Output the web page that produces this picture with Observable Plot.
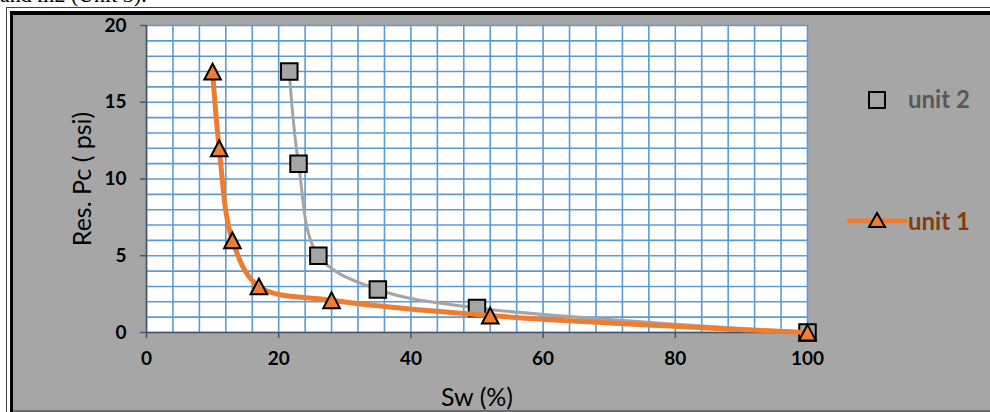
<!DOCTYPE html>
<html>
<head>
<meta charset="utf-8">
<script src="https://cdn.jsdelivr.net/npm/d3@7"></script>
<script src="https://cdn.jsdelivr.net/npm/@observablehq/plot@0.6"></script>
<style>
  html, body { margin: 0; padding: 0; background: #ffffff; }
  body { width: 990px; height: 412px; position: relative; overflow: hidden; font-family: Lato, "Open Sans", sans-serif; }
  #toptext { position: absolute; left: 0; top: -18px; font-family: "Liberation Serif", serif; font-size: 22px; color: #000; white-space: nowrap; }
  #outer { position: absolute; left: 6px; top: 7px; width: 1000px; height: 420px; border-top: 1.5px solid #404040; border-left: 1.5px solid #404040; background: #ffffff; }
  #inner { position: absolute; left: 3px; top: 3px; right: 0; bottom: 0; border-top: 4px solid #000; border-left: 3px solid #000; background: #a6a6a6; }
  #bottomline { position: absolute; left: 13px; top: 410px; width: 990px; height: 2px; background: #6a6a6a; }
  #chart { position: absolute; left: 0; top: 0; }
  .leg { position: absolute; font-family: Lato, sans-serif; font-weight: bold; font-size: 24px; line-height: 1; white-space: nowrap; }
  #legsvg { position: absolute; left: 0; top: 0; }
</style>
</head>
<body>
<div id="toptext">and m2 (Unit 3).</div>
<div id="outer"><div id="inner"></div></div>
<div id="bottomline"></div>
<div id="chart"></div>
<svg id="legsvg" width="990" height="412"></svg>
<div class="leg" id="leg2" style="left:908px; top:87px; color:#595959;">unit 2</div>
<div class="leg" id="leg1" style="left:908px; top:209px; color:#843c0c;">unit 1</div>
<script>
// ---- data ----
const sw1 = [10, 11, 13, 17, 28, 52, 100];
const pc1 = [17, 12, 6, 3, 2.1, 1.1, 0];
const sw2 = [21.6, 23, 26, 35, 50, 100];
const pc2 = [17, 11, 5, 2.8, 1.6, 0];
const xTicks = [0, 20, 40, 60, 80, 100];
const yTicks = [0, 5, 10, 15, 20];
const xGrid = d3.range(0, 101, 4);
const yGrid = d3.range(0, 21, 1);
const seriesNames = ["unit 1", "unit 2"];
const xLabel = "Sw (%)";
const yLabel = "Res. Pc ( psi)";

const unit1 = sw1.map((x, i) => ({x, y: pc1[i]}));
const unit2 = sw2.map((x, i) => ({x, y: pc2[i]}));

// Excel-like triangle (width ~ height), centered on its bounding box
const triangle = {
  draw(context, size) {
    const r = Math.sqrt(size / Math.PI);
    const h = r * 0.95;
    context.moveTo(0, -h);
    context.lineTo(r, h);
    context.lineTo(-r, h);
    context.closePath();
  }
};

const chart = Plot.plot({
  width: 990,
  height: 412,
  marginLeft: 146,
  marginRight: 183,
  marginTop: 25,
  marginBottom: 80,
  style: { background: "transparent", fontFamily: "Lato, sans-serif", overflow: "visible" },
  x: { domain: [0, 100] },
  y: { domain: [0, 20] },
  marks: [
    Plot.frame({ fill: "white", stroke: null }),
    Plot.ruleX(xGrid, { stroke: "#5b9bd5", strokeWidth: 1.6 }),
    Plot.ruleY(yGrid, { stroke: "#5b9bd5", strokeWidth: 1.6 }),
    Plot.ruleX([0], { stroke: "#44546a", strokeWidth: 1.5 }),
    Plot.ruleY([0], { stroke: "#44546a", strokeWidth: 1.5 }),
    Plot.axisX({ ticks: xTicks, tickSize: 6, tickPadding: 13, stroke: "#44546a", strokeWidth: 1.5, fontSize: 19, fontWeight: "bold", fill: "#000", label: null, tickFormat: d => String(d) }),
    Plot.axisY({ ticks: yTicks, tickSize: 6, tickPadding: 14, stroke: "#44546a", strokeWidth: 1.5, fontSize: 19, fontWeight: "bold", fill: "#000", label: null, tickFormat: d => String(d) }),
    Plot.text([xLabel], { text: d => d, frameAnchor: "bottom", dy: 65, fontSize: 25, fill: "#000", textAnchor: "middle", lineAnchor: "middle" }),
    Plot.text([yLabel], { text: d => d, frameAnchor: "left", dx: -64, rotate: -90, fontSize: 25, fill: "#000", textAnchor: "middle", lineAnchor: "middle" }),
    Plot.line(unit2, { x: "x", y: "y", curve: "catmull-rom", stroke: "#a5a5a5", strokeWidth: 3 }),
    Plot.dot(unit2, { x: "x", y: "y", symbol: "square", r: 9.3, fill: "#a5a5a5", stroke: "#000", strokeWidth: 2 }),
    Plot.line(unit1, { x: "x", y: "y", curve: "catmull-rom", stroke: "#ed7d31", strokeWidth: 5 }),
    Plot.dot(unit1, { x: "x", y: "y", symbol: triangle, r: 8.3, fill: "#ed7d31", stroke: "#000", strokeWidth: 2 })
  ]
});
document.getElementById("chart").appendChild(chart);

// legend glyphs
const leg = d3.select("#legsvg");
leg.append("line").attr("x1", 850).attr("x2", 903).attr("y1", 100).attr("y2", 100)
  .attr("stroke", "#a5a5a5").attr("stroke-width", 3);
leg.append("rect").attr("x", 869).attr("y", 92).attr("width", 16).attr("height", 16)
  .attr("fill", "#a5a5a5").attr("stroke", "#000").attr("stroke-width", 2);
leg.append("line").attr("x1", 849).attr("x2", 905).attr("y1", 221).attr("y2", 221)
  .attr("stroke", "#ed7d31").attr("stroke-width", 5).attr("stroke-linecap", "round");
leg.append("path").attr("d", "M877,213 L885,227 L869,227 Z")
  .attr("fill", "#ed7d31").attr("stroke", "#000").attr("stroke-width", 2);
</script>
</body>
</html>
